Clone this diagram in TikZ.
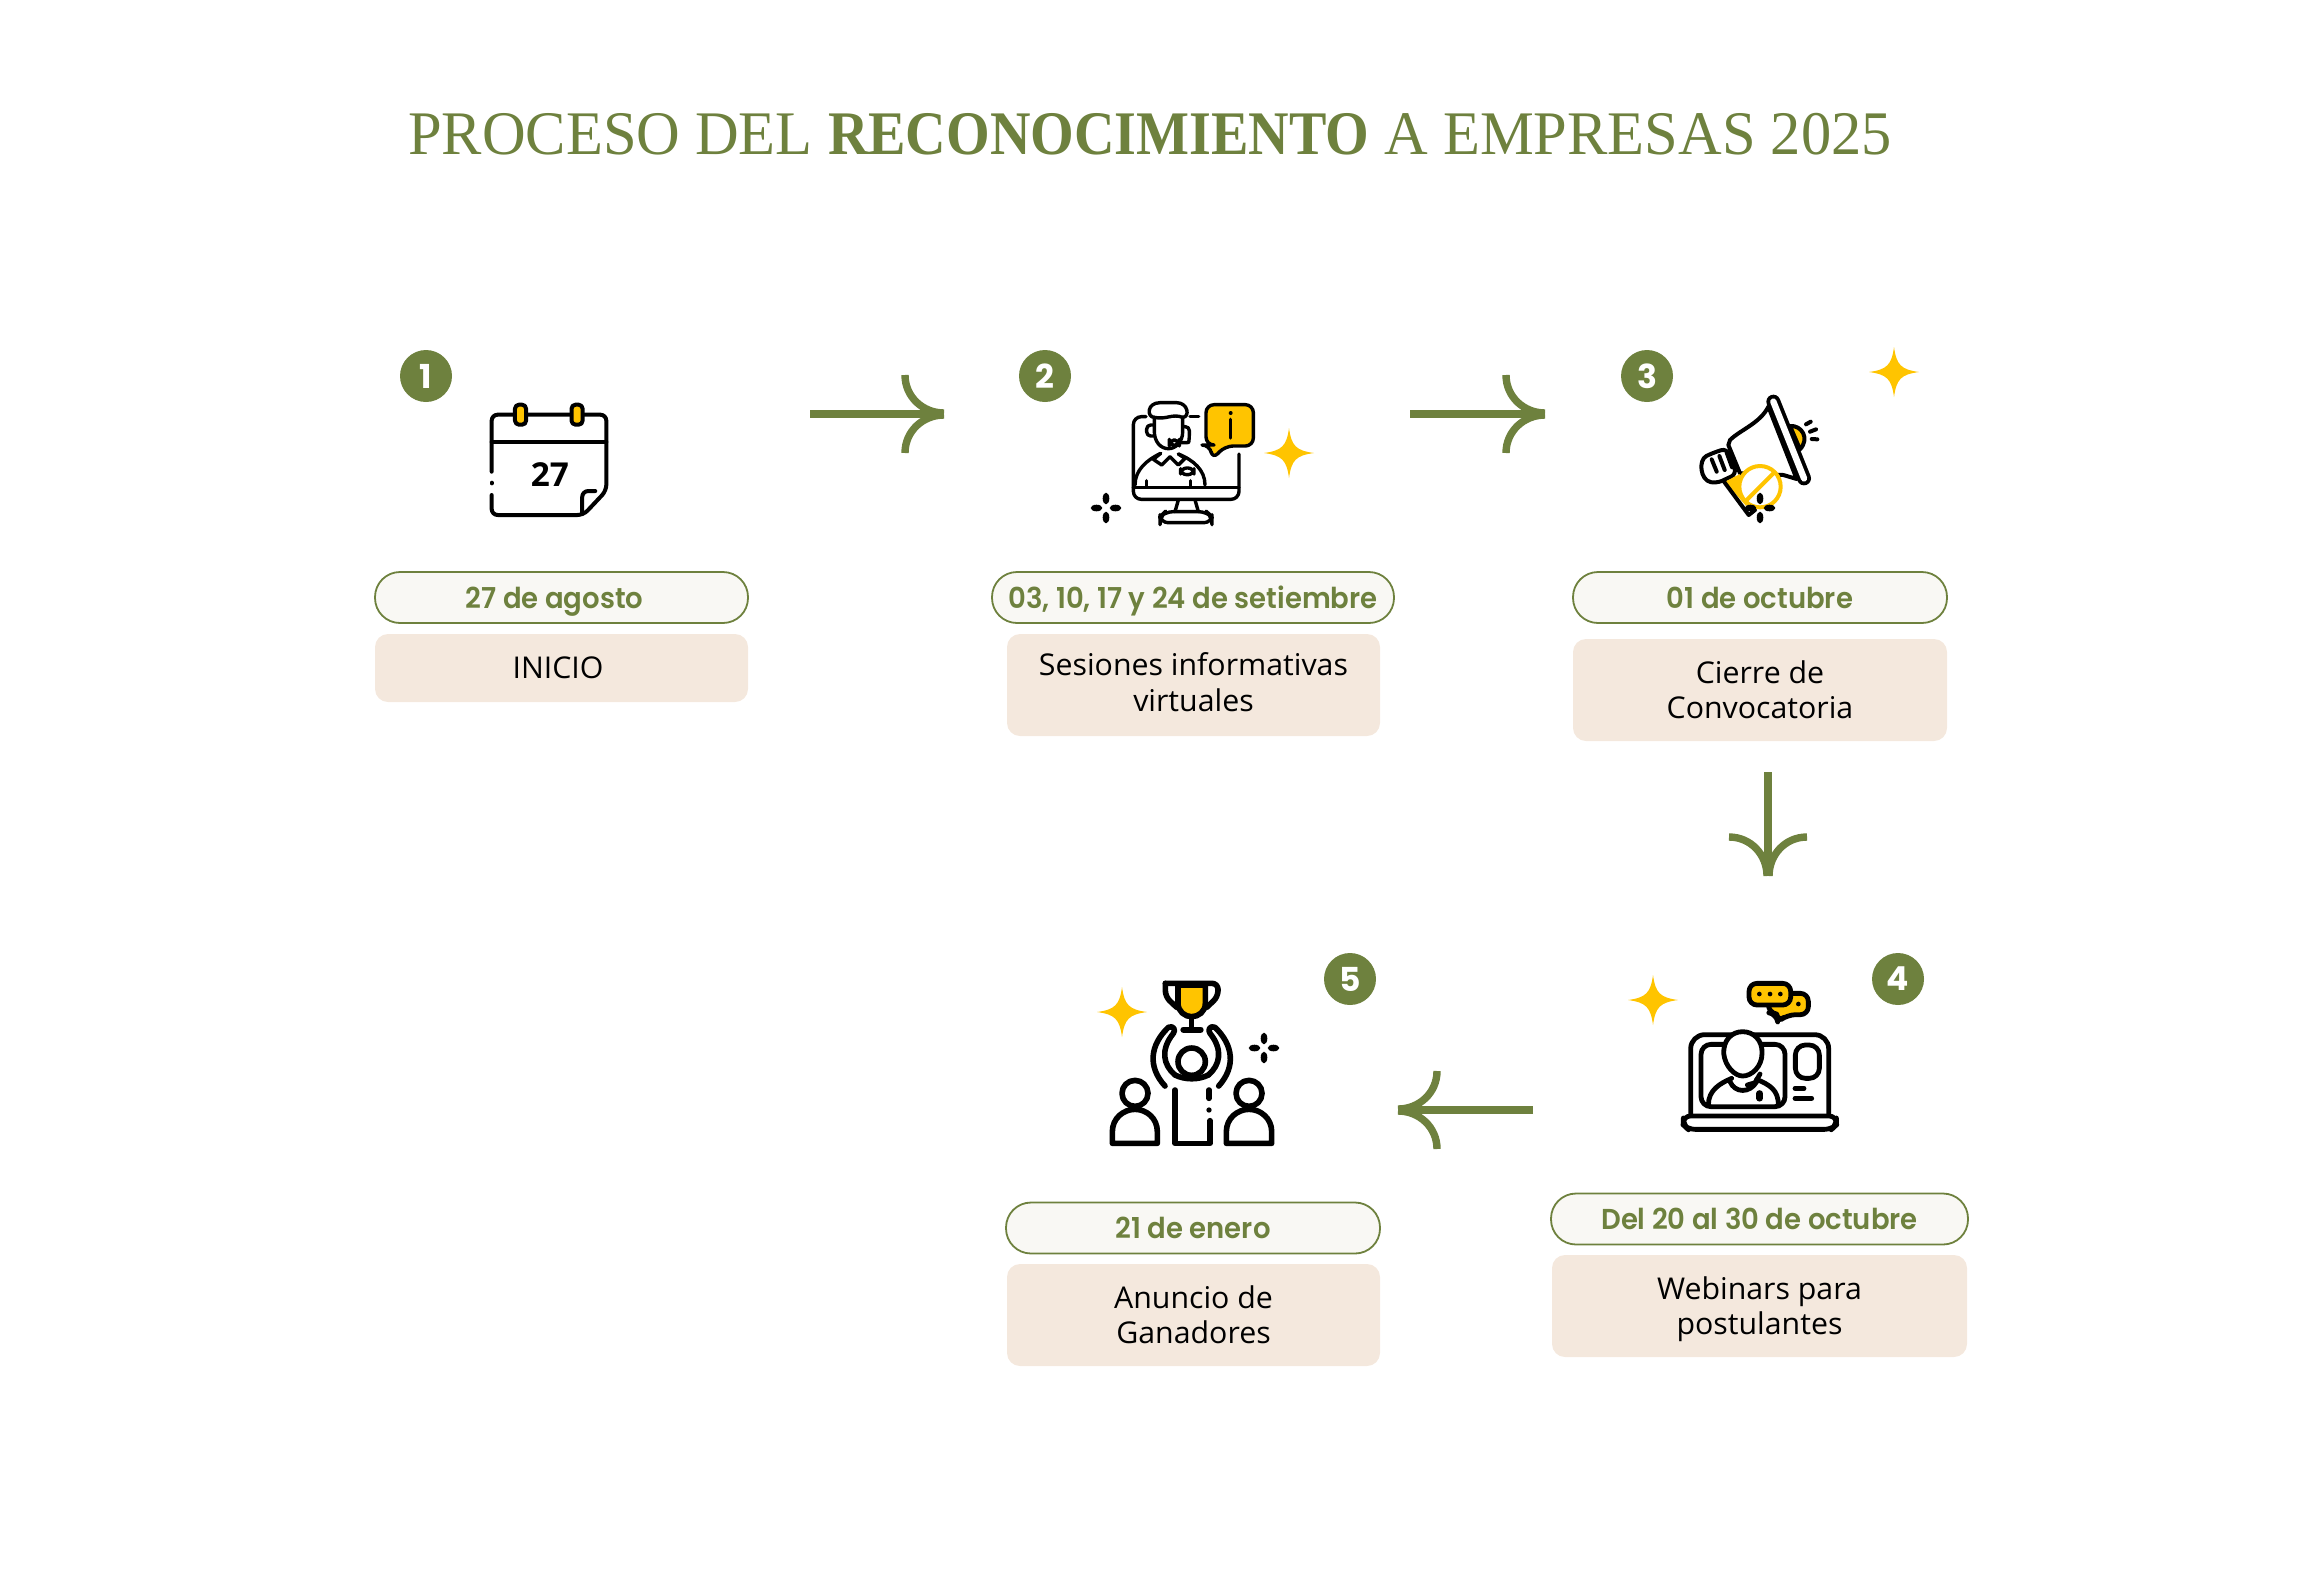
\documentclass[tikz,border=0pt]{standalone}
\usepackage{fontspec}
\usepackage{tikz}
\usetikzlibrary{
  calc,
  positioning,
  shapes,
  arrows.meta
}
\setmainfont{Liberation Serif}[FakeStretch=0.975,BoldFeatures={FakeStretch=0.905}]
\newfontfamily\datefont[FakeStretch=0.955]{Poppins SemiBold}
\newfontfamily\bodyfont[FakeStretch=1.01]{Open Sans}
\newfontfamily\numfont{Poppins}[BoldFont=* Bold]
\definecolor{leaf}{HTML}{6E813E}
\definecolor{pillfill}{HTML}{F9F8F4}
\definecolor{sand}{HTML}{F4E8DD}
\definecolor{gold}{HTML}{FFC400}
\tikzset{
  titletext/.style={text=leaf,font=\fontsize{31}{36}\selectfont,inner sep=0},
  badge/.style={circle,fill=leaf,text=white,minimum size=26pt,inner sep=0,font=\numfont\bfseries\fontsize{16.5}{18}\selectfont},
  datepill/.style={draw=leaf,line width=.9pt,fill=pillfill,text=leaf,rounded corners=12.5pt,inner sep=0,minimum height=25.5pt,text height=10.6pt,text depth=0pt,font=\datefont\fontsize{14.4}{17}\selectfont},
  infobox/.style={fill=sand,rounded corners=6.5pt,inner sep=0,align=center,font=\bodyfont\fontsize{15}{17.75}\selectfont},
  twolines/.style={text height=28.95pt,text depth=0pt},
  flowline/.style={draw=leaf,line width=3.7pt},
  iconline/.style={line width=2pt,line cap=round,line join=round},
  heavyline/.style={line width=2.4pt,line cap=round,line join=round},
  iconzoom/.style={x=.16667pt,y=-.16667pt},
  flowtip/.pic={
    \draw[flowline] (-39,-39) .. controls (-39,-17) and (-21,-1) .. (0,-1);
    \draw[flowline] (-39,39) .. controls (-39,17) and (-21,1) .. (0,1);
  },
  starmark/.pic={
    \fill[gold] (0,-25) .. controls (2.5,-7) and (7,-2.5) .. (25,0) .. controls (7,2.5) and (2.5,7) .. (0,25)
    .. controls (-2.5,7) and (-7,2.5) .. (-25,0) .. controls (-7,-2.5) and (-2.5,-7) .. (0,-25) -- cycle;
  },
  sparkmark/.pic={
    \fill (0,-9.5) ellipse [x radius=3.3,y radius=5.8];
    \fill (0,9.5) ellipse [x radius=3.3,y radius=5.8];
    \fill (-9.5,0) ellipse [x radius=5.8,y radius=3.3];
    \fill (9.5,0) ellipse [x radius=5.8,y radius=3.3];
  }
}
\begin{document}
\begin{tikzpicture}[x=.5pt,y=-.5pt]
  \useasboundingbox (0,0) rectangle (2300,1580);

  \node[titletext] at (1150,134) (Title) {PROCESO DEL \textbf{RECONOCIMIENTO} A EMPRESAS 2025};

  % numbers
  \node[badge] at (426,376) (Badge1) {1};
  \node[badge] at (1045,376) (Badge2) {2};
  \node[badge] at (1647,376) (Badge3) {3};
  \node[badge] at (1898,979) (Badge4) {4};
  \node[badge] at (1350,979) (Badge5) {5};

  % dates
  \node[datepill,minimum width=186.5pt] at (561.5,597.5) (Date1) {\hspace*{-7pt}27 de agosto};
  \node[datepill,minimum width=201pt] at (1193,597.5) (Date2) {03, 10, 17 y 24 de setiembre};
  \node[datepill,minimum width=187pt] at (1760,597.5) (Date3) {01 de octubre};
  \node[datepill,minimum width=208.5pt] at (1759.5,1219) (Date4) {Del 20 al 30 de octubre};
  \node[datepill,minimum width=187pt] at (1193,1228) (Date5) {21 de enero};

  % descriptions
  \node[infobox,minimum width=186.5pt,minimum height=34pt] at (561.5,668) (Box1) {\hspace*{-3.5pt}INICIO};
  \node[infobox,twolines,text height=26pt,minimum width=186.5pt,minimum height=51pt] at (1193.5,685) (Box2) {Sesiones informativas\\virtuales};
  \node[infobox,twolines,minimum width=187pt,minimum height=51pt] at (1760,690) (Box3) {Cierre de\\Convocatoria};
  \node[infobox,twolines,minimum width=207.5pt,minimum height=51pt] at (1759.5,1306) (Box4) {Webinars para\\postulantes};
  \node[infobox,twolines,minimum width=186.5pt,minimum height=51pt] at (1193.5,1315) (Box5) {Anuncio de\\Ganadores};

  % arrows
  \coordinate (Arrow1 Start) at (810,414);
  \coordinate (Arrow1 End) at (944,414);
  \coordinate (Arrow2 Start) at (1410,414);
  \coordinate (Arrow2 End) at (1545,414);
  \coordinate (Arrow3 Start) at (1768,772);
  \coordinate (Arrow3 End) at (1768,876);
  \coordinate (Arrow4 Start) at (1533,1110);
  \coordinate (Arrow4 End) at (1398,1110);
  \draw[flowline] (Arrow1 Start) -- (Arrow1 End) pic {flowtip};
  \draw[flowline] (Arrow2 Start) -- (Arrow2 End) pic {flowtip};
  \draw[flowline] (Arrow3 Start) -- (Arrow3 End) pic[rotate=-90] {flowtip};
  \draw[flowline] (Arrow4 Start) -- (Arrow4 End) pic[rotate=180] {flowtip};

  % stars
  \path (1289,453) pic {starmark};
  \path (1894,372) pic {starmark};
  \path (1653,1000) pic {starmark};
  \path (1122,1012) pic {starmark};

  % calendar
  \begin{scope}[shift={(360,330)},x=.1977pt,y=-.16667pt]
    \draw[iconline,rounded corners=3pt] (333,425) -- (333,254) -- (623,254) -- (623,482) -- (565,555) -- (333,555) -- (333,495);
    \draw[iconline] (333,458) -- (333,460);
    \draw[iconline] (333,336) -- (623,336);
    \draw[iconline,rounded corners=3pt] (562,552) -- (562,483) -- (595,483);
    \draw[iconline,fill=gold,rounded corners=2pt] (392,224) rectangle (420,284);
    \draw[iconline,fill=gold,rounded corners=2pt] (535,224) rectangle (563,284);
    \node[font=\bodyfont\bfseries\fontsize{16.5}{16.5}\selectfont,inner sep=0] at (480,435) (Calendar Day) {27};
  \end{scope}

  % agent on a screen
  \begin{scope}[shift={(990,330)},iconzoom,iconline/.append style={line width=1.7pt}]
    \draw[iconline,rounded corners=4pt] (468,260) -- (430,260) -- (430,508) -- (747,508) -- (747,372);
    \draw[iconline] (600,260) -- (626,260);
    \draw[iconline] (430,472) -- (747,472);
    \draw[iconline] (565,510) -- (555,545);
    \draw[iconline] (615,510) -- (625,545);
    \draw[iconline,rounded corners=4pt] (510,578) -- (510,560) -- (525,545) -- (650,545) -- (666,560) -- (666,578) -- cycle;
    % head
    \draw[iconline] (493,262) .. controls (530,270) and (545,250) .. (578,262) -- (578,305) .. controls (578,335) and (558,356) .. (535,356) .. controls (512,356) and (493,335) .. (493,305) -- cycle;
    \draw[iconline] (493,262) .. controls (470,262) and (470,218) .. (510,218) -- (560,218) .. controls (595,218) and (600,262) .. (578,262);
    \draw[iconline,rounded corners=2pt] (490,285) -- (470,285) -- (470,318) -- (490,318);
    \draw[iconline,rounded corners=2pt] (582,290) -- (598,290) -- (598,325) .. controls (596,338) and (585,338) .. (570,338);
    \draw[iconline,fill=white,rounded corners=3pt] (538,330) rectangle (568,346);
    % shoulders
    \draw[iconline] (435,465) .. controls (435,420) and (470,390) .. (512,370);
    \draw[iconline] (645,465) .. controls (645,420) and (610,390) .. (565,372);
    \draw[iconline] (512,370) -- (490,388) -- (515,405) -- (540,380) -- (565,405) -- (585,385) -- (565,372);
    \draw[iconline,rounded corners=3pt] (572,414) rectangle (612,434);
    \draw[iconline] (470,452) -- (470,468);
    \draw[iconline] (602,452) -- (602,468);
    % bubble
    \draw[iconline,fill=gold,rounded corners=4pt] (648,224) -- (790,224) -- (790,348) -- (705,348) -- (667,388) -- (660,345) -- (648,345) -- cycle;
    \draw[iconline] (722,268) -- (722,324);
    \fill (722,249) circle [radius=6];
  \end{scope}
  \path (1106,508) pic {sparkmark};

  % megaphone
  \begin{scope}[shift={(1580,330)},iconzoom]
    \draw[iconline,fill=gold] (630,288) .. controls (665,285) and (690,325) .. (660,358) -- cycle;
    \draw[iconline] (678,283) -- (692,275);
    \draw[iconline] (690,305) -- (708,298);
    \draw[iconline] (695,327) -- (712,328);
    \draw[iconline,fill=white] (565,230) .. controls (540,280) and (480,300) .. (450,330) -- (445,345) -- (480,430) -- (610,435) -- (650,447) -- cycle;
    \draw[iconline,fill=white,rounded corners=3pt] (440,355) -- (395,370) .. controls (355,390) and (360,450) .. (410,460) -- (470,432) -- cycle;
    \draw[iconline] (395,388) -- (410,425);
    \draw[iconline] (418,378) -- (434,420);
    \draw[iconline] (440,368) -- (456,412);
    \fill[gold] (435,455) -- (480,432) -- (500,530) -- cycle;
    \draw[iconline] (432,455) -- (506,555) -- (525,540);
    \draw[line width=2pt,draw=gold,fill=white] (540,470) circle [radius=62];
    \draw[line width=2pt,draw=gold] (498,512) -- (582,428);
    \draw[line width=7pt,line cap=round] (580,215) -- (672,445);
    \draw[line width=3.2pt,line cap=round,white] (580,215) -- (672,445);
  \end{scope}
  \path (1760,508) pic {sparkmark};

  % laptop
  \begin{scope}[shift={(1600,950)},iconzoom]
    \draw[heavyline,fill=gold,rounded corners=4pt] (505,168) -- (505,188) -- (530,192) -- (533,216) -- (563,194) -- (625,194) -- (625,130) -- (560,130);
    \fill (595,162) circle [radius=7];
    \draw[heavyline,fill=gold,rounded corners=4pt] (447,100) rectangle (572,165);
    \fill (478,132) circle [radius=7];
    \fill (510,132) circle [radius=7];
    \fill (541,132) circle [radius=7];
    \draw[heavyline,rounded corners=7pt] (272,495) -- (272,254) -- (686,254) -- (686,495);
    \draw[heavyline,rounded corners=3.5pt] (250,498) -- (709,498) -- (709,525) -- (695,538) -- (264,538) -- (250,525) -- cycle;
    \draw[heavyline,rounded corners=5pt] (303,283) rectangle (555,470);
    \draw[heavyline,rounded corners=5pt] (586,285) rectangle (658,385);
    \draw[heavyline] (585,415) -- (612,415);
    \draw[heavyline] (585,445) -- (635,445);
    % person
    \draw[heavyline] (325,465) .. controls (325,420) and (360,400) .. (395,385);
    \draw[heavyline] (535,465) .. controls (535,420) and (510,405) .. (470,388);
    \draw[heavyline] (390,395) .. controls (405,430) and (450,430) .. (470,395);
    \draw[heavyline,fill=white] (428,245) .. controls (395,245) and (370,270) .. (371,310) .. controls (375,350) and (405,378) .. (428,378) .. controls (455,378) and (486,350) .. (486,310) .. controls (488,270) and (460,245) .. (428,245) -- cycle;
    \draw[heavyline] (480,372) -- (465,398) -- (442,405);
    \draw[line width=3.2pt,line cap=round] (479,430) -- (479,445);
  \end{scope}

  % winner
  \begin{scope}[shift={(1060,950)},iconzoom,heavyline/.append style={line width=2.8pt}]
    \draw[heavyline,fill=gold] (354,105) -- (436,105) -- (436,160) .. controls (436,185) and (415,200) .. (395,200) .. controls (375,200) and (354,185) .. (354,160) -- cycle;
    \draw[heavyline,rounded corners=3pt] (316,100) -- (474,100) -- (474,140) -- (440,172);
    \draw[heavyline,rounded corners=3pt] (316,100) -- (316,140) -- (350,172);
    \draw[heavyline] (395,203) -- (395,238);
    \draw[line width=3pt,line cap=round] (370,239) -- (422,239);
    \draw[heavyline] (315,408) .. controls (262,350) and (270,285) .. (325,232) .. controls (340,225) and (348,240) .. (340,250) .. controls (300,300) and (310,345) .. (345,375);
    \draw[heavyline] (476,408) .. controls (528,350) and (520,285) .. (465,232) .. controls (450,225) and (442,240) .. (450,250) .. controls (490,300) and (480,345) .. (445,375);
    \draw[heavyline] (395,335) circle [radius=41];
    \draw[heavyline] (345,375) .. controls (375,390) and (415,390) .. (445,375);
    \draw[heavyline] (345,420) -- (345,580) -- (450,580) -- (450,512);
    \draw[heavyline] (447,420) -- (447,445);
    \fill (447,480) circle [radius=8];
    % left and right persons
    \draw[heavyline] (225,430) circle [radius=39];
    \draw[heavyline] (157,580) -- (157,545) .. controls (157,505) and (190,478) .. (225,478) .. controls (260,478) and (292,505) .. (292,545) -- (292,580) -- cycle;
    \draw[heavyline] (567,430) circle [radius=39];
    \draw[heavyline] (499,580) -- (499,545) .. controls (499,505) and (532,478) .. (567,478) .. controls (602,478) and (635,505) .. (635,545) -- (635,580) -- cycle;
  \end{scope}
  \path (1264,1048) pic {sparkmark};
\end{tikzpicture}
\end{document}
